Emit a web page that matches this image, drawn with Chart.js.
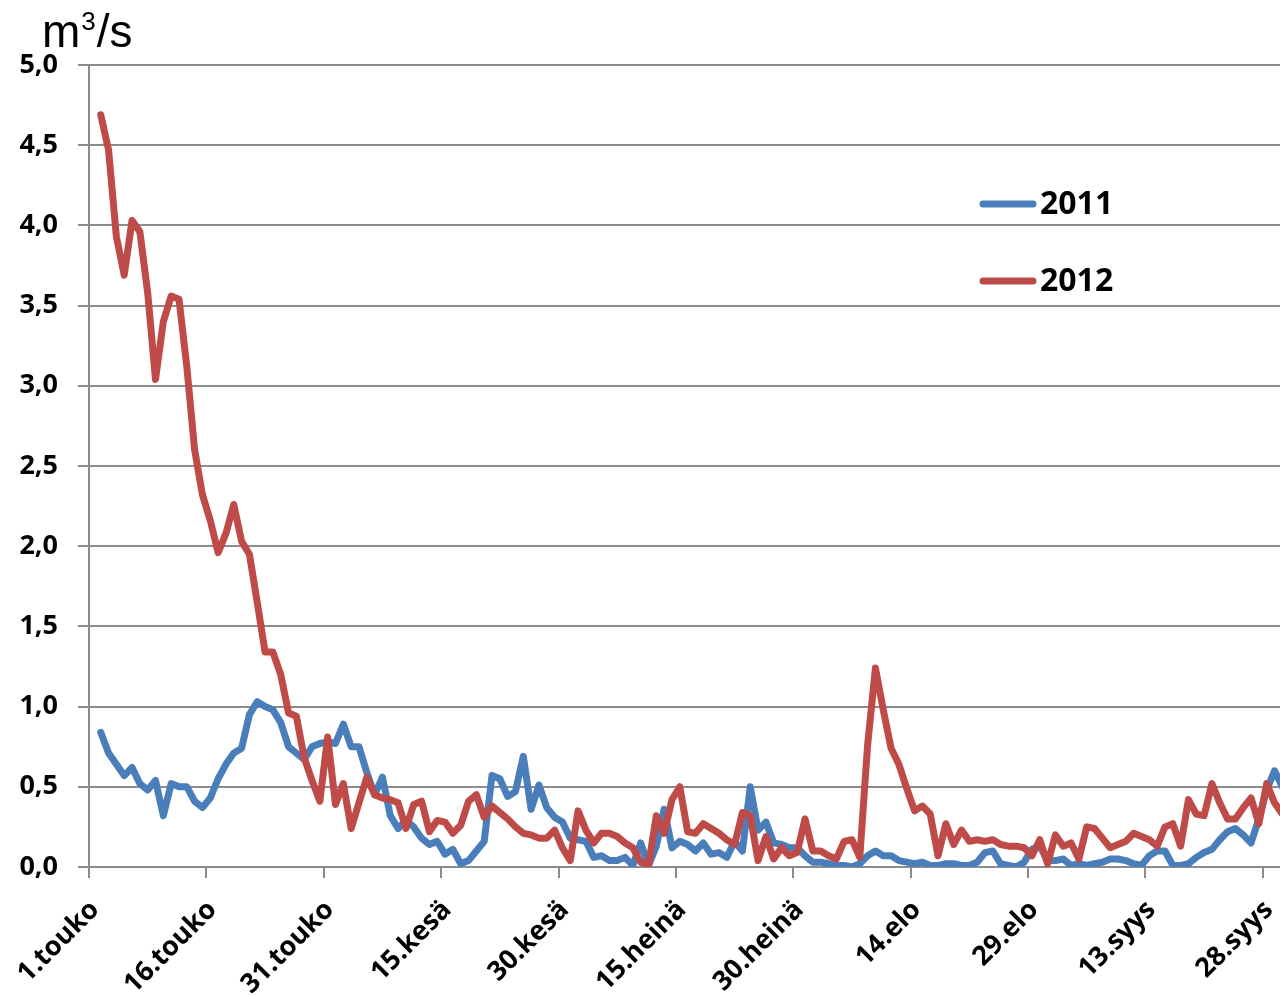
<!DOCTYPE html>
<html>
<head>
<meta charset="utf-8">
<script src="https://cdn.jsdelivr.net/npm/chart.js@4/dist/chart.umd.min.js"></script>
<style>
    html, body { margin: 0; padding: 0; background: #fff; }
    #wrap { position: relative; width: 1280px; height: 996px; }
    #unit {
        position: absolute; left: 42px; top: 8px;
        font-family: "Liberation Sans", Arial, sans-serif;
        font-size: 46px; line-height: 46px; color: #000;
    }
    #unit sup { font-size: 26px; line-height: 0; vertical-align: 17px; margin: 0 1px; }
</style>
</head>
<body>
<div id="wrap">
    <canvas id="flowChart" width="1280" height="996"></canvas>
    <div id="unit">m<sup>3</sup>/s</div>
</div>
<script>
// day 0 = 1.touko, one value per day
const seriesNames = ['2011', '2012'];
const tickLabels = ['1.touko', '16.touko', '31.touko', '15.kesä', '30.kesä', '15.heinä',
    '30.heinä', '14.elo', '29.elo', '13.syys', '28.syys'];
const firstDay = 1.5;

const flow2011 = [
    0.84, 0.71, 0.64, 0.57, 0.62, 0.52, 0.48, 0.54, 0.32, 0.52,
    0.50, 0.50, 0.41, 0.37, 0.43, 0.55, 0.64, 0.71, 0.74, 0.95,
    1.03, 1.00, 0.98, 0.90, 0.75, 0.71, 0.67, 0.75, 0.77, 0.78,
    0.77, 0.89, 0.75, 0.75, 0.59, 0.45, 0.56, 0.32, 0.24, 0.29,
    0.25, 0.18, 0.14, 0.16, 0.08, 0.11, 0.02, 0.04, 0.10, 0.16,
    0.57, 0.55, 0.44, 0.47, 0.69, 0.36, 0.51, 0.37, 0.31, 0.28,
    0.18, 0.17, 0.16, 0.06, 0.07, 0.04, 0.04, 0.06, 0.01, 0.15,
    0.01, 0.13, 0.36, 0.12, 0.16, 0.14, 0.10, 0.15, 0.08, 0.09,
    0.06, 0.16, 0.10, 0.50, 0.23, 0.28, 0.15, 0.14, 0.12, 0.12,
    0.07, 0.03, 0.03, 0.02, 0.01, 0.01, 0.00, 0.02, 0.07, 0.10,
    0.07, 0.07, 0.04, 0.03, 0.02, 0.03, 0.01, 0.01, 0.02, 0.02,
    0.01, 0.01, 0.03, 0.09, 0.10, 0.02, 0.01, 0.00, 0.03, 0.11,
    0.13, 0.04, 0.04, 0.05, 0.01, 0.02, 0.01, 0.02, 0.03, 0.05,
    0.05, 0.04, 0.02, 0.01, 0.07, 0.10, 0.10, 0.01, 0.01, 0.02,
    0.06, 0.09, 0.11, 0.17, 0.22, 0.24, 0.20, 0.15, 0.30, 0.48,
    0.60, 0.50
];

const flow2012 = [
    4.69, 4.47, 3.93, 3.69, 4.03, 3.96, 3.58, 3.04, 3.40, 3.56,
    3.54, 3.12, 2.60, 2.32, 2.16, 1.96, 2.08, 2.26, 2.03, 1.95,
    1.65, 1.34, 1.34, 1.20, 0.96, 0.94, 0.68, 0.54, 0.41, 0.81,
    0.39, 0.52, 0.24, 0.40, 0.56, 0.45, 0.43, 0.42, 0.40, 0.24,
    0.39, 0.41, 0.22, 0.29, 0.28, 0.21, 0.26, 0.41, 0.45, 0.31,
    0.38, 0.34, 0.30, 0.25, 0.21, 0.20, 0.18, 0.18, 0.23, 0.12,
    0.04, 0.35, 0.23, 0.15, 0.21, 0.21, 0.19, 0.15, 0.12, 0.03,
    0.01, 0.32, 0.21, 0.42, 0.50, 0.22, 0.21, 0.27, 0.24, 0.21,
    0.17, 0.14, 0.34, 0.32, 0.04, 0.19, 0.05, 0.12, 0.07, 0.09,
    0.30, 0.10, 0.10, 0.07, 0.05, 0.16, 0.17, 0.06, 0.76, 1.24,
    0.98, 0.74, 0.64, 0.49, 0.35, 0.38, 0.33, 0.07, 0.27, 0.14,
    0.23, 0.16, 0.17, 0.16, 0.17, 0.14, 0.13, 0.13, 0.12, 0.07,
    0.17, 0.02, 0.20, 0.13, 0.15, 0.05, 0.25, 0.24, 0.18, 0.12,
    0.14, 0.16, 0.21, 0.19, 0.17, 0.13, 0.25, 0.27, 0.13, 0.42,
    0.33, 0.32, 0.52, 0.40, 0.30, 0.30, 0.37, 0.43, 0.27, 0.52,
    0.40, 0.33
];

const lineColors = ['#4A7EBB', '#BE4B48'];
const gridColor = '#8c8c8c';
const tickFont = { family: '"Open Sans", "Liberation Sans", sans-serif', size: 27, weight: 'bold' };

function toPoints(values) {
    return values.map((v, i) => ({ x: firstDay + i, y: v }));
}

// legend drawn to the right, inside the plot
const sideLegend = {
    id: 'sideLegend',
    afterDraw(chart) {
        const ctx = chart.ctx;
        ctx.save();
        chart.data.datasets.forEach((ds, i) => {
            let y = 204 + i * 77;
            ctx.strokeStyle = ds.borderColor;
            ctx.lineWidth = 7;
            ctx.lineCap = 'round';
            ctx.beginPath();
            ctx.moveTo(983, y);
            ctx.lineTo(1033, y);
            ctx.stroke();
            ctx.fillStyle = '#000';
            ctx.font = 'bold 32px "Open Sans", "Liberation Sans", sans-serif';
            ctx.textBaseline = 'middle';
            ctx.fillText(ds.label, 1040, y + 1);
        });
        ctx.restore();
    }
};

new Chart(document.getElementById('flowChart'), {
    type: 'line',
    data: {
        datasets: [
            {
                label: seriesNames[0],
                data: toPoints(flow2011),
                borderColor: lineColors[0],
                order: 1
            },
            {
                label: seriesNames[1],
                data: toPoints(flow2012),
                borderColor: lineColors[1],
                order: 0
            }
        ]
    },
    options: {
        responsive: false,
        animation: false,
        devicePixelRatio: 1,
        layout: { padding: { top: 65, left: 0, right: 0, bottom: 0 } },
        elements: {
            line: { borderWidth: 7, tension: 0, borderJoinStyle: 'round', borderCapStyle: 'round' },
            point: { radius: 0 }
        },
        plugins: {
            legend: { display: false },
            tooltip: { enabled: false }
        },
        scales: {
            x: {
                type: 'linear',
                min: 0,
                max: 152.2,
                border: { color: gridColor, width: 2 },
                grid: { drawOnChartArea: false, color: gridColor, lineWidth: 2, tickLength: 11 },
                ticks: {
                    stepSize: 15,
                    includeBounds: false,
                    autoSkip: false,
                    maxRotation: 45,
                    minRotation: 45,
                    labelOffset: 6,
                    padding: 16,
                    color: '#000',
                    font: tickFont,
                    callback: (v) => tickLabels[v / 15]
                },
                afterFit(scale) {
                    scale.height = 129;
                    scale.paddingLeft = 0;
                    scale.paddingRight = 0;
                }
            },
            y: {
                min: 0,
                max: 5,
                border: { color: gridColor, width: 2 },
                grid: { color: gridColor, lineWidth: 2, tickLength: 11 },
                ticks: {
                    stepSize: 0.5,
                    padding: 20,
                    color: '#000',
                    font: tickFont,
                    callback: (v) => v.toFixed(1).replace('.', ',')
                },
                afterFit(scale) {
                    scale.width = 89;
                }
            }
        }
    },
    plugins: [sideLegend]
});
</script>
</body>
</html>
